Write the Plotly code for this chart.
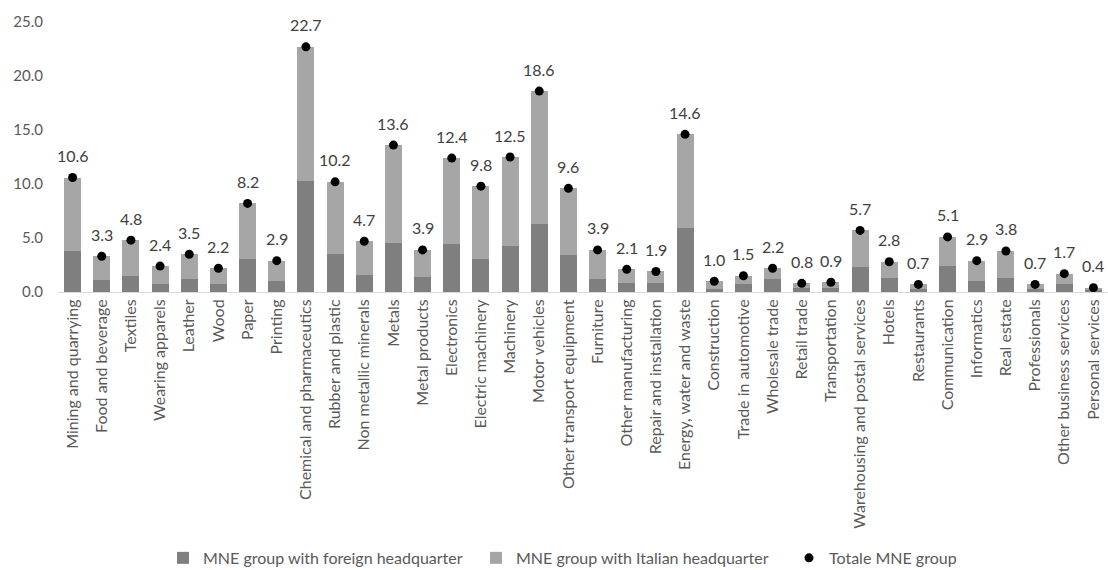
import plotly.graph_objects as go

categories = ["Mining and quarrying", "Food and beverage", "Textiles", "Wearing apparels", "Leather", "Wood",
              "Paper", "Printing", "Chemical and pharmaceutics", "Rubber and plastic", "Non metallic minerals",
              "Metals", "Metal products", "Electronics", "Electric machinery", "Machinery", "Motor vehicles",
              "Other transport equipment", "Furniture", "Other manufacturing", "Repair and installation",
              "Energy, water and waste", "Construction", "Trade in automotive", "Wholesale trade", "Retail trade",
              "Transportation", "Warehousing and postal services", "Hotels", "Restaurants", "Communication",
              "Informatics", "Real estate", "Professionals", "Other business services", "Personal services"]

foreign_hq = [3.8, 1.1, 1.5, 0.7, 1.2, 0.7, 3.1, 1.0, 10.3, 3.5, 1.6,
              4.5, 1.4, 4.4, 3.1, 4.3, 6.3, 3.4, 1.2, 0.8, 0.8, 5.9, 0.3, 0.7,
              1.2, 0.4, 0.4, 2.3, 1.3, 0.3, 2.4, 1.0, 1.3, 0.3, 0.7, 0.2]

italian_hq = [6.8, 2.2, 3.3, 1.7, 2.3, 1.5, 5.1, 1.9, 12.4, 6.7, 3.1,
              9.1, 2.5, 8.0, 6.7, 8.2, 12.3, 6.2, 2.7, 1.3, 1.1, 8.7, 0.7, 0.8,
              1.0, 0.4, 0.5, 3.4, 1.5, 0.4, 2.7, 1.9, 2.5, 0.4, 1.0, 0.2]

total = [10.6, 3.3, 4.8, 2.4, 3.5, 2.2, 8.2, 2.9, 22.7, 10.2, 4.7,
         13.6, 3.9, 12.4, 9.8, 12.5, 18.6, 9.6, 3.9, 2.1, 1.9, 14.6, 1.0, 1.5,
         2.2, 0.8, 0.9, 5.7, 2.8, 0.7, 5.1, 2.9, 3.8, 0.7, 1.7, 0.4]

y_ticks = [0, 5, 10, 15, 20, 25]

FONT = "Lato"

fig = go.Figure()
fig.add_trace(go.Bar(x=categories, y=foreign_hq, name="MNE group with foreign headquarter",
                     marker=dict(color="#7f7f7f", line=dict(width=0))))
fig.add_trace(go.Bar(x=categories, y=italian_hq, name="MNE group with Italian headquarter",
                     marker=dict(color="#a6a6a6", line=dict(width=0))))
fig.add_trace(go.Scatter(x=categories, y=total, name="Totale MNE group", mode="markers",
                         marker=dict(color="black", size=9)))

for c, t in zip(categories, total):
    fig.add_annotation(x=c, y=t, text=f"{t:.1f}", showarrow=False, yshift=22,
                       font=dict(family=FONT, size=16, color="#404040"))

fig.update_layout(
    width=1108, height=570,
    barmode="stack", bargap=0.42,
    plot_bgcolor="white", paper_bgcolor="white",
    margin=dict(l=58, r=0, t=22, b=278, autoexpand=False),
    font=dict(family=FONT, size=14, color="#595959"),
    showlegend=True,
    legend=dict(orientation="h", x=0.1, xanchor="left", y=-0.985, yanchor="middle",
                font=dict(family=FONT, size=16, color="#595959"), itemwidth=30,
                entrywidth=268, entrywidthmode="pixels",
                traceorder="normal"),
)
fig.update_xaxes(range=[-0.5, len(categories) - 0.5], tickangle=-90, showline=True,
                 linecolor="#d9d9d9", linewidth=1, automargin=False,
                 tickfont=dict(family=FONT, size=16, color="#595959"), showgrid=False)
fig.update_yaxes(range=[0, 25], tickvals=y_ticks, tickformat=".1f", showgrid=False, zeroline=False,
                 showline=False, ticklabelstandoff=14, automargin=False,
                 tickfont=dict(family=FONT, size=15, color="#595959"))

fig.write_html("out.html")
